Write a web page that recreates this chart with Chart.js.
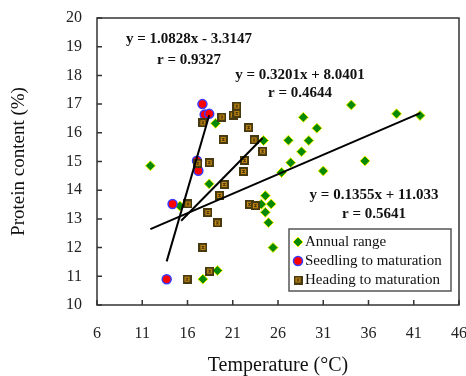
<!DOCTYPE html>
<html>
<head>
<meta charset="utf-8">
<script src="https://cdn.jsdelivr.net/npm/chart.js@4"></script>
<style>
  html, body { margin: 0; padding: 0; background: #fff; }
</style>
</head>
<body>
<canvas id="Chart" width="466" height="376"></canvas>
<script>
// * Tick labels
const xTicks = [6, 11, 16, 21, 26, 31, 36, 41, 46]
const yTicks = [10, 11, 12, 13, 14, 15, 16, 17, 18, 19, 20]

// * Annual range (temperature, protein)
const annualTemp = [11.9, 15.15, 17.7, 18.4, 19.1, 19.3, 24.15, 24.4, 24.6, 24.6, 24.95, 25.25, 25.45, 26.4, 27.15, 27.4, 28.6, 28.8, 29.4, 30.3, 31.0, 34.1, 35.6, 39.1, 41.7]
const annualProtein = [14.85, 13.45, 10.9, 14.22, 16.33, 11.2, 13.51, 15.73, 13.81, 13.23, 12.87, 13.52, 12.0, 14.62, 15.74, 14.96, 15.34, 16.54, 15.73, 16.16, 14.67, 16.97, 15.02, 16.66, 16.6]

// * Seedling to maturation
const seedTemp = [13.7, 14.35, 17.05, 17.2, 17.65, 17.9, 18.4]
const seedProtein = [10.9, 13.52, 15.03, 14.68, 17.0, 16.64, 16.66]

// * Heading to maturation
const headTemp = [15.95, 16.05, 17.15, 17.7, 17.7, 18.25, 18.4, 18.45, 19.3, 19.55, 19.8, 19.95, 20.05, 21.05, 21.45, 21.45, 22.2, 22.3, 22.75, 22.85, 23.35, 23.5, 24.3]
const headProtein = [10.9, 13.52, 14.94, 16.35, 12.01, 13.22, 14.96, 11.18, 12.86, 13.82, 16.55, 15.77, 14.2, 16.62, 16.68, 16.93, 14.65, 15.04, 16.18, 13.51, 15.75, 13.46, 15.36]

// * Trend lines: annual, seedling, heading
const fitSlope = [0.1355, 1.0828, 0.3201]
const fitIntercept = [11.033, -3.3147, 8.0401]
const fitR = ['0.5641', '0.9327', '0.4644']
const fitFrom = [11.9, 13.7, 15.3]
const fitTo = [41.7, 18.4, 24.3]

const serif = '"Liberation Serif", "Times New Roman", serif'

// * Heading marker icon (dark brown square, orange inside)
function headIcon() {
    const c = document.createElement('canvas')
    c.width = 9
    c.height = 9
    const g = c.getContext('2d')
    g.fillStyle = '#473a10'
    g.fillRect(0, 0, 9, 9)
    g.fillStyle = '#c98c12'
    g.fillRect(2, 2, 5, 5)
    g.fillStyle = '#4a3508'
    g.fillRect(3, 3, 3, 1)
    g.fillRect(4, 3, 1, 3)
    g.fillRect(3, 5, 3, 1)
    return c
}
const headMark = headIcon()

const pts = (xs, ys) => xs.map((x, i) => ({ x: x, y: ys[i] }))
const fitLine = i => [fitFrom[i], fitTo[i]].map(x => ({ x: x, y: fitSlope[i] * x + fitIntercept[i] }))

const lineStyle = {
    type: 'line',
    showLine: true,
    borderColor: '#000',
    borderWidth: 2,
    pointRadius: 0,
    fill: false,
}

const data = {
    datasets: [
        Object.assign({ label: 'fit annual', data: fitLine(0) }, lineStyle),
        Object.assign({ label: 'fit seedling', data: fitLine(1) }, lineStyle),
        Object.assign({ label: 'fit heading', data: fitLine(2) }, lineStyle),
        {
            label: 'Heading to maturation',
            data: pts(headTemp, headProtein),
            pointStyle: headMark,
        },
        {
            label: 'Seedling to maturation',
            data: pts(seedTemp, seedProtein),
            pointStyle: 'circle',
            pointRadius: 4.5,
            backgroundColor: '#ff0000',
            borderColor: '#3a3aff',
            borderWidth: 1.5,
        },
        {
            label: 'Annual range',
            data: pts(annualTemp, annualProtein),
            pointStyle: 'rectRot',
            pointRadius: 5,
            backgroundColor: '#068a06',
            borderColor: '#f5f500',
            borderWidth: 1,
        },
    ],
}

// * Frame, inside ticks, equations and legend
const extras = {
    id: 'extras',
    beforeDatasetsDraw(chart) {
        const { ctx, chartArea: a, scales } = chart
        ctx.save()
        ctx.strokeStyle = '#333'
        ctx.lineWidth = 1.5
        ctx.beginPath()
        xTicks.forEach(v => {
            const px = scales.x.getPixelForValue(v)
            ctx.moveTo(px, a.bottom)
            ctx.lineTo(px, a.bottom - 5)
        })
        yTicks.forEach(v => {
            const py = scales.y.getPixelForValue(v)
            ctx.moveTo(a.left, py)
            ctx.lineTo(a.left + 5, py)
        })
        ctx.stroke()
        ctx.strokeRect(a.left, a.top, a.right - a.left, a.bottom - a.top)
        ctx.restore()
    },
    afterDatasetsDraw(chart) {
        const { ctx } = chart
        ctx.save()
        ctx.fillStyle = '#111'
        ctx.textAlign = 'center'
        ctx.textBaseline = 'middle'
        ctx.font = 'bold 15px ' + serif
        const notes = [[374, 195, 214], [189, 39, 60], [300, 75, 93]]
        notes.forEach((n, i) => {
            const sign = fitIntercept[i] < 0 ? '- ' : '+ '
            ctx.fillText('y = ' + fitSlope[i] + 'x ' + sign + Math.abs(fitIntercept[i]), n[0], n[1])
            ctx.fillText('r = ' + fitR[i], n[0], n[2])
        })

        // legend box
        ctx.fillStyle = '#fff'
        ctx.fillRect(289, 229, 162, 62)
        ctx.strokeStyle = '#555'
        ctx.lineWidth = 1.5
        ctx.strokeRect(289, 229, 162, 62)
        ctx.textAlign = 'left'
        ctx.font = '15px ' + serif
        const rows = [5, 4, 3]
        rows.forEach((d, i) => {
            const ds = chart.data.datasets[d]
            const y = 242 + i * 19
            ctx.fillStyle = ds.backgroundColor || '#000'
            ctx.strokeStyle = ds.borderColor || '#000'
            ctx.lineWidth = ds.borderWidth || 0
            Chart.helpers.drawPoint(ctx, {
                pointStyle: ds.pointStyle,
                radius: ds.pointRadius || 4.5,
                borderWidth: ds.borderWidth || 0,
            }, 298, y)
            ctx.fillStyle = '#111'
            ctx.fillText(ds.label, 305, y)
        })
        ctx.restore()
    },
}

// * Config Block
const config = {
    type: 'scatter',
    data,
    options: {
        responsive: false,
        animation: false,
        devicePixelRatio: 1,
        layout: { padding: { top: 18, right: 7, left: 0, bottom: 0 } },
        plugins: {
            legend: { display: false },
            tooltip: { enabled: false },
        },
        scales: {
            x: {
                type: 'linear',
                min: 6,
                max: 46,
                grid: { display: false, drawTicks: false },
                border: { display: false },
                ticks: { font: { family: serif, size: 16 }, color: '#222', padding: 19, maxRotation: 0 },
                afterBuildTicks: s => { s.ticks = xTicks.map(v => ({ value: v })) },
                afterFit: s => { s.height = 71; s.paddingLeft = 0; s.paddingRight = 0 },
                title: {
                    display: true,
                    text: 'Temperature (°C)',
                    font: { family: serif, size: 20, lineHeight: 1 },
                    color: '#111',
                    padding: { top: 0, bottom: 0 },
                },
            },
            y: {
                min: 10,
                max: 20,
                grid: { display: false, drawTicks: false },
                border: { display: false },
                ticks: { font: { family: serif, size: 16 }, color: '#222', padding: 15 },
                afterBuildTicks: s => { s.ticks = yTicks.map(v => ({ value: v })) },
                afterFit: s => { s.width = 97; s.paddingTop = 0; s.paddingBottom = 0 },
                title: {
                    display: true,
                    text: 'Protein content (%)',
                    font: { family: serif, size: 19, lineHeight: 1 },
                    color: '#111',
                    padding: { top: 10, bottom: 0 },
                },
            },
        },
    },
    plugins: [extras],
}

// * Init / Render Block
const scatterChart = new Chart(document.getElementById('Chart'), config)
</script>
</body>
</html>
